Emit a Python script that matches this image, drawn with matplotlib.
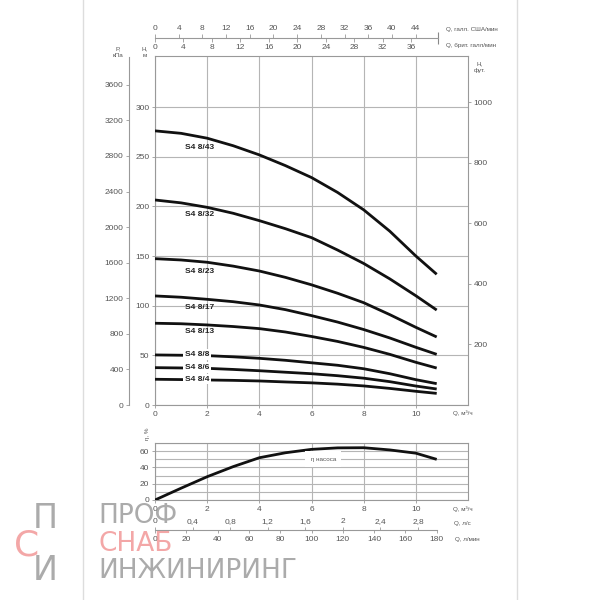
import matplotlib
matplotlib.use("Agg")
import matplotlib.pyplot as plt
from matplotlib.lines import Line2D
from matplotlib.ticker import FixedLocator

plt.rcParams['font.family'] = ['Liberation Sans', 'DejaVu Sans']

# ---------------- data ----------------
q = [0, 1, 2, 3, 4, 5, 6, 7, 8, 9, 10, 10.8]          # m3/h
h_43 = [276, 273.5, 268.6, 261, 251.8, 241, 229, 214, 196.5, 175, 150, 131.6]
h_32 = [206.4, 203.5, 199, 193, 185.6, 177.5, 168.5, 156, 142.5, 127, 110, 95.6]
h_23 = [147.3, 146, 143.7, 139.8, 134.9, 128.5, 121, 112.5, 103, 91, 78.2, 68.5]
h_17 = [109.8, 108.5, 106.4, 104, 100.7, 96, 90, 83.5, 76, 67.5, 58.1, 51]
h_13 = [82.3, 81.8, 80.6, 79, 76.9, 73.5, 69, 64, 58, 51, 43, 37.2]
h_8 = [50.4, 50.1, 49.7, 48.5, 47, 45, 42.5, 40, 36.5, 31.5, 25.5, 21.5]
h_6 = [37.6, 37.3, 36.9, 35.8, 34.5, 33, 31.5, 29.5, 27, 23.5, 19.1, 16.1]
h_4 = [25.9, 25.6, 25.2, 24.8, 24.2, 23.2, 22.3, 21, 19.2, 16.7, 13.8, 11.7]
eff = [0, 14.5, 28.6, 41, 51.9, 58, 62.2, 64, 64.2, 61.5, 57.5, 49.9]

curve_names = ["S4 8/43", "S4 8/32", "S4 8/23", "S4 8/17", "S4 8/13", "S4 8/8", "S4 8/6", "S4 8/4"]
curves = [h_43, h_32, h_23, h_17, h_13, h_8, h_6, h_4]
label_y = [259, 191.3, 134.9, 98, 73.8, 51, 37.6, 25.9]
label_boxed = [False, False, False, False, False, True, True, True]

q_ticks = [0, 2, 4, 6, 8, 10]
h_ticks = [0, 50, 100, 150, 200, 250, 300]
ft_ticks = [200, 400, 600, 800, 1000]
kpa_ticks = [0, 400, 800, 1200, 1600, 2000, 2400, 2800, 3200, 3600]
usg_ticks = [0, 4, 8, 12, 16, 20, 24, 28, 32, 36, 40, 44]
impg_ticks = [0, 4, 8, 12, 16, 20, 24, 28, 32, 36]
ls_ticks = [0, 0.4, 0.8, 1.2, 1.6, 2.0, 2.4, 2.8]
ls_labels = ["0", "0,4", "0,8", "1,2", "1,6", "2", "2,4", "2,8"]
lmin_ticks = [0, 20, 40, 60, 80, 100, 120, 140, 160, 180]
eff_ticks = [0, 20, 40, 60]

# ---------------- style ----------------
TC = '#555555'
GC = '#b5b5b5'
FS = 6
SFS = 4.5

W = H = 600.0
def fr(x0, y_top, w, h):
    return [x0 / W, 1 - (y_top + h) / H, w / W, h / H]

fig = plt.figure(figsize=(6, 6), dpi=100)

# page border lines
for xp in (83, 517):
    fig.add_artist(Line2D([xp / W, xp / W], [0, 1], transform=fig.transFigure,
                          color='#dddddd', lw=1))

QMAX = 12.0
HMAX = 349 / 0.9933

# ---------------- main H-Q axes ----------------
ax = fig.add_axes(fr(155, 56, 313, 349))
axf = ax.twinx()
ax.set_xlim(0, QMAX)
ax.set_ylim(0, HMAX)
ax.set_xticks(q_ticks)
ax.set_yticks(h_ticks)
ax.grid(True, color=GC, lw=0.8)
ax.set_axisbelow(True)
for s in ax.spines.values():
    s.set_color('#999999')
    s.set_linewidth(0.8)
ax.tick_params(axis='both', colors='#999999', labelcolor=TC, labelsize=FS,
               length=2.5, width=0.6, pad=1.5)

for name, hv, ly, boxed in zip(curve_names, curves, label_y, label_boxed):
    ax.plot(q, hv, color='#111111', lw=2.0, solid_capstyle='butt', zorder=3)
    kw = dict(fontsize=6, fontweight='bold', color='#222222', ha='left', va='center', zorder=4)
    if boxed:
        kw['bbox'] = dict(fc='white', ec='none', pad=1.2)
    ax.text(1.15, ly, name, **kw)

# feet axis
axf.set_ylim(0, HMAX / 0.3048)
axf.set_yticks(ft_ticks)
for s in axf.spines.values():
    s.set_visible(False)
axf.tick_params(axis='y', colors='#999999', labelcolor=TC, labelsize=FS,
                length=2.5, width=0.6, pad=1.5)

# kPa axis
axp = fig.add_axes(fr(129, 57, 0.01, 348))
axp.patch.set_visible(False)
axp.set_ylim(0, 348 / 0.08894)
axp.set_yticks(kpa_ticks)
axp.set_xticks([])
for k in ('top', 'right', 'bottom'):
    axp.spines[k].set_visible(False)
axp.spines['left'].set_color('#999999')
axp.spines['left'].set_linewidth(0.8)
axp.tick_params(axis='y', colors='#999999', labelcolor=TC, labelsize=FS,
                length=2.5, width=0.6, pad=1.5)

fig.text(118 / W, 1 - 52 / H, "P,\nкПа", fontsize=SFS, color=TC, ha='center', va='center',
         linespacing=1.6)
fig.text(145 / W, 1 - 52 / H, "H,\nм", fontsize=SFS, color=TC, ha='center', va='center',
         linespacing=1.6)
fig.text(480 / W, 1 - 67 / H, "H,\nфут.", fontsize=SFS, color=TC, ha='center', va='center',
         linespacing=1.6)
fig.text(463 / W, 1 - 413 / H, "Q, м³/ч", fontsize=SFS, color=TC, ha='center', va='center')

# ---------------- top gallon axes ----------------
QEND = 10.85
axu = fig.add_axes(fr(155, 38, 313, 0.01))
axi = axu.twiny()
axu.patch.set_visible(False)
axi.patch.set_visible(False)

axu.set_xlim(0, QMAX * 4.403)
axu.set_yticks([])
for k in ('top', 'left', 'right'):
    axu.spines[k].set_visible(False)
axu.spines['bottom'].set_bounds(0, QEND * 4.403)
axu.spines['bottom'].set_color('#999999')
axu.spines['bottom'].set_linewidth(0.8)
axu.set_xticks(usg_ticks)
axu.xaxis.set_minor_locator(FixedLocator([QEND * 4.403]))
axu.tick_params(axis='x', which='major', colors='#999999', labelcolor=TC, labelsize=FS,
                length=3, width=0.6, pad=1.5, direction='out', top=True, labeltop=True,
                bottom=False, labelbottom=False)
axu.tick_params(axis='x', which='minor', colors='#888888', length=8, width=0.8,
                direction='inout', top=True, bottom=False)

axi.set_xlim(0, QMAX * 3.666)
for s in axi.spines.values():
    s.set_visible(False)
axi.set_xticks(impg_ticks)
axi.tick_params(axis='x', colors='#999999', labelcolor=TC, labelsize=FS, length=3,
                width=0.6, pad=1.0, direction='out', bottom=True, labelbottom=True,
                top=False, labeltop=False)

fig.text(446 / W, 1 - 29 / H, "Q, галл. США/мин", fontsize=SFS, color=TC, ha='left', va='center')
fig.text(446 / W, 1 - 46 / H, "Q, брит. галл/мин", fontsize=SFS, color=TC, ha='left', va='center')

# ---------------- efficiency axes ----------------
axe = fig.add_axes(fr(155, 443, 313, 57))
axe.set_xlim(0, QMAX)
axe.set_ylim(0, 70)
axe.set_xticks(q_ticks)
axe.set_yticks(eff_ticks)
axe.yaxis.set_minor_locator(FixedLocator([10, 30, 50, 70]))
axe.grid(True, which='both', color=GC, lw=0.8)
axe.set_axisbelow(True)
for s in axe.spines.values():
    s.set_color('#999999')
    s.set_linewidth(0.8)
axe.tick_params(axis='both', which='major', colors='#999999', labelcolor=TC, labelsize=FS,
                length=2.5, width=0.6, pad=1.5)
axe.tick_params(axis='y', which='minor', length=0)
axe.plot(q, eff, color='#111111', lw=2.0, solid_capstyle='butt', zorder=3)
axe.text(6.45, 50, "η насоса", fontsize=SFS, color=TC, ha='center', va='center', zorder=4,
         bbox=dict(fc='white', ec='none', pad=4))
fig.text(147 / W, 1 - 434 / H, "η, %", fontsize=SFS, color=TC, rotation=90,
         ha='center', va='center')
fig.text(463 / W, 1 - 509 / H, "Q, м³/ч", fontsize=SFS, color=TC, ha='center', va='center')

# ---------------- l/s and l/min axes ----------------
axl = fig.add_axes(fr(155, 530, 313, 0.01))
axm = axl.twiny()
axl.patch.set_visible(False)
axm.patch.set_visible(False)

axl.set_xlim(0, QMAX / 3.6)
axl.set_yticks([])
for k in ('top', 'left', 'right'):
    axl.spines[k].set_visible(False)
axl.spines['bottom'].set_bounds(0, 10.8 / 3.6)
axl.spines['bottom'].set_color('#999999')
axl.spines['bottom'].set_linewidth(0.8)
axl.set_xticks(ls_ticks)
axl.set_xticklabels(ls_labels)
axl.tick_params(axis='x', colors='#999999', labelcolor=TC, labelsize=FS, length=2.5,
                width=0.6, pad=1.0, direction='out', top=True, labeltop=True,
                bottom=False, labelbottom=False)

axm.set_xlim(0, QMAX * 1000 / 60)
for s in axm.spines.values():
    s.set_visible(False)
axm.set_xticks(lmin_ticks)
axm.tick_params(axis='x', colors='#999999', labelcolor=TC, labelsize=FS, length=2.5,
                width=0.6, pad=1.5, direction='out', bottom=True, labelbottom=True,
                top=False, labeltop=False)

fig.text(462 / W, 1 - 523 / H, "Q, л/с", fontsize=SFS, color=TC, ha='center', va='center')
fig.text(467 / W, 1 - 540 / H, "Q, л/мин", fontsize=SFS, color=TC, ha='center', va='center')

# ---------------- watermark ----------------
WG = '#8f8f8f'
WR = '#f08a8a'
wm = dict(family=['DejaVu Sans'], ha='left', va='center', alpha=0.75, zorder=10)
fig.text(98 / W, 1 - 516 / H, "ПРОФ", fontsize=19, color=WG, **wm)
fig.text(98 / W, 1 - 544 / H, "СНАБ", fontsize=19, color=WR, **wm)
fig.text(98 / W, 1 - 571 / H, "ИНЖИНИРИНГ", fontsize=19, color=WG, **wm)
fig.text(33 / W, 1 - 518 / H, "П", fontsize=24, color=WG, **wm)
fig.text(14 / W, 1 - 545 / H, "С", fontsize=26, color=WR, **wm)
fig.text(33 / W, 1 - 570 / H, "И", fontsize=24, color=WG, **wm)

fig.savefig("out.png", dpi=100, facecolor='white')
